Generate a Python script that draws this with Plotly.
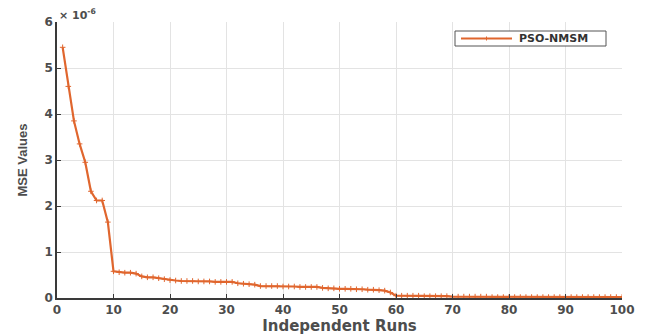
import plotly.graph_objects as go

runs = list(range(1, 101))
mse_e6 = [5.45, 4.60, 3.85, 3.35, 2.95, 2.32, 2.12, 2.12, 1.65, 0.58,
          0.56, 0.55, 0.55, 0.53, 0.47, 0.45, 0.45, 0.43, 0.41, 0.39,
          0.38, 0.37, 0.37, 0.37, 0.36, 0.36, 0.36, 0.35, 0.35, 0.35,
          0.35, 0.32, 0.31, 0.30, 0.29, 0.26, 0.26, 0.26, 0.26, 0.25,
          0.25, 0.25, 0.24, 0.24, 0.24, 0.24, 0.22, 0.21, 0.21, 0.20,
          0.20, 0.20, 0.19, 0.19, 0.18, 0.18, 0.17, 0.16, 0.12, 0.05,
          0.05, 0.05, 0.05, 0.05, 0.04, 0.04, 0.04, 0.04, 0.04, 0.03,
          0.03, 0.03, 0.03, 0.03, 0.03, 0.03, 0.02, 0.02, 0.02, 0.02,
          0.02, 0.02, 0.02, 0.02, 0.02, 0.02, 0.02, 0.02, 0.02, 0.02,
          0.02, 0.02, 0.02, 0.02, 0.02, 0.02, 0.02, 0.02, 0.02, 0.02]
series_name = "PSO-NMSM"

xticks = list(range(0, 101, 10))
yticks = [0, 1, 2, 3, 4, 5, 6]

color = "#E0662E"
wide = "DejaVu Sans"
narrow = "Liberation Sans"
txt = "#4D4D4D"

fig = go.Figure()
fig.add_trace(go.Scatter(
    x=runs, y=mse_e6, mode="lines+markers", name=series_name,
    showlegend=False,
    line=dict(color=color, width=2.2),
    marker=dict(symbol="cross-thin", size=4, color=color,
                line=dict(color=color, width=1)),
))

# the page body adds an 8px offset, so the figure is sized to fit the window
fig.update_layout(
    width=637, height=327,
    margin=dict(l=49, r=23, t=14, b=37),
    paper_bgcolor="white", plot_bgcolor="white",
    font=dict(family=wide, color=txt, size=12),
    showlegend=False,
    xaxis=dict(range=[0, 100], tickvals=xticks,
               ticktext=[f"<b>{t}</b>" for t in xticks],
               tickfont=dict(family=wide, size=12, color=txt),
               showgrid=True, gridcolor="#E3E3E3", gridwidth=1,
               showline=True, linecolor="#3A3A3A", linewidth=1.5,
               ticks="inside", ticklen=4, tickcolor="#3A3A3A",
               zeroline=False, automargin=False,
               title=dict(text="<b>Independent Runs</b>", standoff=1,
                          font=dict(family=wide, size=15, color=txt))),
    yaxis=dict(range=[0, 6], tickvals=yticks,
               ticktext=[f"<b>{t}</b>" for t in yticks],
               tickfont=dict(family=wide, size=12, color=txt),
               showgrid=True, gridcolor="#E3E3E3", gridwidth=1,
               showline=True, linecolor="#3A3A3A", linewidth=1.5,
               ticks="inside", ticklen=4, tickcolor="#3A3A3A",
               zeroline=False, automargin=False,
               title=dict(text="<b>MSE Values</b>", standoff=14,
                          font=dict(family=narrow, size=13, color=txt))),
)

# exponent label
fig.add_annotation(xref="paper", yref="paper", x=0, y=1.0, xanchor="left",
                   yanchor="bottom", showarrow=False, yshift=-2,
                   text="<b>× 10<sup>-6</sup></b>",
                   font=dict(size=11, color=txt, family=wide))

# legend box (drawn to match the compact MATLAB legend)
W, H = 565.0, 276.0
def px(x):
    return (x - 57) / W
def py(y):
    return (298 - y) / H

fig.add_shape(type="rect", xref="paper", yref="paper",
              x0=px(455), x1=px(606), y0=py(46), y1=py(31),
              line=dict(color="#555555", width=1), fillcolor="white")
fig.add_shape(type="line", xref="paper", yref="paper",
              x0=px(461), x1=px(512), y0=py(38.5), y1=py(38.5),
              line=dict(color=color, width=2.2))
fig.add_shape(type="line", xref="paper", yref="paper",
              x0=px(486.5), x1=px(486.5), y0=py(36.5), y1=py(40.5),
              line=dict(color=color, width=1))
fig.add_annotation(xref="paper", yref="paper", x=px(517), y=py(38.5),
                   xanchor="left", yanchor="middle", showarrow=False,
                   text=f"<b>{series_name}</b>",
                   font=dict(size=11, color="#333333", family=wide))

fig.write_html("out.html")
